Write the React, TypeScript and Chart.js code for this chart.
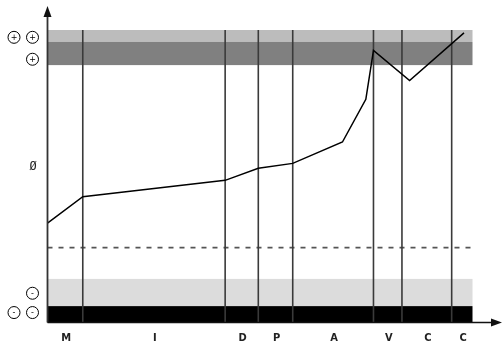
import React, { useEffect, useRef } from "react";
import { Chart, registerables } from "chart.js";

Chart.register(...registerables);

// Phase boundaries on x (0..100) and their labels
const phaseBounds = [0, 8.3, 41.8, 49.6, 57.7, 76.7, 83.4, 95.1, 100];
const phaseLabels = ["M", "I", "D", "P", "A", "V", "C", "C"];

// Trajectory line
const lineX = [0, 8.3, 41.8, 49.6, 57.7, 69.4, 74.9, 76.7, 85.2, 98.0];
const lineY = [34.0, 43.0, 48.6, 52.7, 54.4, 61.7, 76.3, 93.0, 82.7, 99.0];

// Horizontal bands (y ranges) and colours
const bandFrom = [95.9, 88.0, 5.6, 0];
const bandTo = [100, 95.9, 14.9, 5.6];
const bandColors = ["#bcbcbc", "#808080", "#dcdcdc", "#000000"];

// Dashed reference level
const dashedLevel = 25.6;

// Y-side labels: circled signs (count, sign) and plain text
const signLevels = [97.5, 90.0, 10.0, 3.4];
const signCounts = [2, 1, 1, 2];
const signTexts = ["+", "+", "-", "-"];
const neutralLabel = "Ø";
const neutralLevel = 53.2;

const decorPlugin = {
  id: "decor",
  beforeDatasetsDraw(chart: any) {
    const { ctx, chartArea } = chart;
    const xs = chart.scales.x;
    const ys = chart.scales.y;
    ctx.save();
    // bands
    for (let i = 0; i < bandFrom.length; i++) {
      const y1 = ys.getPixelForValue(bandTo[i]);
      const y2 = ys.getPixelForValue(bandFrom[i]);
      ctx.fillStyle = bandColors[i];
      ctx.fillRect(chartArea.left, y1, chartArea.right - chartArea.left, y2 - y1);
    }
    // dashed line
    ctx.strokeStyle = "#555";
    ctx.lineWidth = 1.8;
    ctx.setLineDash([5, 6]);
    const yd = ys.getPixelForValue(dashedLevel);
    ctx.beginPath();
    ctx.moveTo(chartArea.left, yd);
    ctx.lineTo(chartArea.right, yd);
    ctx.stroke();
    ctx.setLineDash([]);
    // vertical phase lines
    ctx.strokeStyle = "#3a3a3a";
    ctx.lineWidth = 1.6;
    for (let i = 1; i < phaseBounds.length - 1; i++) {
      const x = xs.getPixelForValue(phaseBounds[i]);
      ctx.beginPath();
      ctx.moveTo(x, ys.getPixelForValue(100));
      ctx.lineTo(x, ys.getPixelForValue(0));
      ctx.stroke();
    }
    ctx.restore();
  },
  afterDatasetsDraw(chart: any) {
    const { ctx, chartArea } = chart;
    const xs = chart.scales.x;
    const ys = chart.scales.y;
    ctx.save();
    const x0 = chartArea.left;
    const yb = ys.getPixelForValue(0);
    // y axis with arrow
    ctx.strokeStyle = "#333";
    ctx.fillStyle = "#111";
    ctx.lineWidth = 1.8;
    ctx.beginPath();
    ctx.moveTo(x0, yb);
    ctx.lineTo(x0, 14);
    ctx.stroke();
    ctx.beginPath();
    ctx.moveTo(x0, 6);
    ctx.lineTo(x0 - 4, 17);
    ctx.lineTo(x0 + 4, 17);
    ctx.closePath();
    ctx.fill();
    // x axis with arrow
    ctx.strokeStyle = "#111";
    ctx.lineWidth = 1.3;
    ctx.beginPath();
    ctx.moveTo(x0, yb);
    ctx.lineTo(494, yb);
    ctx.stroke();
    ctx.beginPath();
    ctx.moveTo(502, yb);
    ctx.lineTo(491, yb - 4);
    ctx.lineTo(491, yb + 4);
    ctx.closePath();
    ctx.fill();
    // phase labels
    ctx.fillStyle = "#222";
    ctx.font = "bold 11px 'Liberation Sans Narrow', 'DejaVu Sans Condensed', Roboto, sans-serif";
    ctx.textAlign = "center";
    ctx.textBaseline = "middle";
    for (let i = 0; i < phaseLabels.length; i++) {
      const xc = xs.getPixelForValue((phaseBounds[i] + phaseBounds[i + 1]) / 2);
      ctx.fillText(phaseLabels[i], xc + 1, 338);
    }
    // neutral label
    ctx.font = "12px 'DejaVu Sans Mono', monospace";
    ctx.fillText(neutralLabel, 33, ys.getPixelForValue(neutralLevel));
    // circled signs
    for (let i = 0; i < signLevels.length; i++) {
      const yc = ys.getPixelForValue(signLevels[i]);
      for (let k = 0; k < signCounts[i]; k++) {
        const xc = 32.5 - k * 18.5;
        ctx.strokeStyle = "#000";
        ctx.lineWidth = 1;
        ctx.beginPath();
        ctx.arc(xc, yc, 6, 0, Math.PI * 2);
        ctx.stroke();
        ctx.fillStyle = "#000";
        ctx.font = "8px 'DejaVu Sans', sans-serif";
        ctx.fillText(signTexts[i], xc, yc + 0.5);
      }
    }
    ctx.restore();
  },
};

export default function App() {
  const ref = useRef<HTMLCanvasElement | null>(null);
  useEffect(() => {
    document.body.style.margin = "0";
    if (!ref.current) return;
    const chart = new Chart(ref.current, {
      type: "line",
      data: {
        datasets: [
          {
            data: lineX.map((x, i) => ({ x, y: lineY[i] })),
            borderColor: "#000",
            borderWidth: 1.5,
            pointRadius: 0,
            tension: 0,
            fill: false,
          },
        ],
      },
      options: {
        responsive: false,
        animation: false,
        layout: { padding: { left: 47.5, right: 30.5, top: 30, bottom: 24.5 } },
        plugins: { legend: { display: false }, tooltip: { enabled: false } },
        scales: {
          x: { type: "linear", min: 0, max: 100, display: false },
          y: { type: "linear", min: 0, max: 100, display: false },
        },
      },
      plugins: [decorPlugin],
    });
    return () => chart.destroy();
  }, []);
  return (
    <div style={{ width: 503, height: 347 }}>
      <canvas ref={ref} width={503} height={347} />
    </div>
  );
}
